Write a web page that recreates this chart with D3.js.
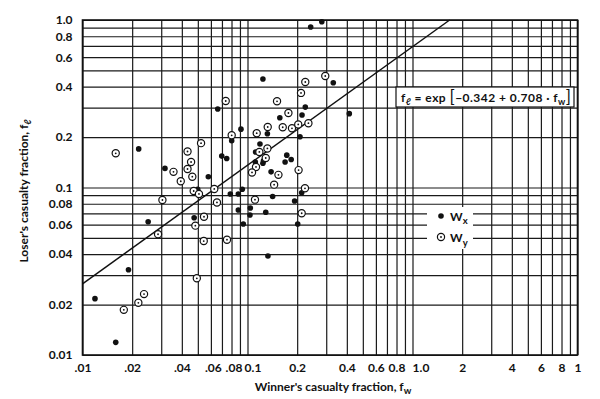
<!DOCTYPE html>
<html>
<head>
<meta charset="utf-8">
<script src="https://cdn.jsdelivr.net/npm/d3@7"></script>
<style>
  body { margin: 0; background: #fff; }
  text { font-family: Lato, "DejaVu Sans", sans-serif; font-weight: 700; fill: #111; }
</style>
</head>
<body>
<div id="chart"></div>
<script>
// winner W_x (filled dots)
var wxFw = [0.0159, 0.0119, 0.0190, 0.0250, 0.0219, 0.0316, 0.0499, 0.0475, 0.0579, 0.0698,
            0.0748, 0.0802, 0.0913, 0.0660, 0.0787, 0.088, 0.093, 0.088, 0.104, 0.1035,
            0.0943, 0.129, 0.133, 0.142, 0.1115, 0.124, 0.125, 0.112, 0.119, 0.132,
            0.139, 0.157, 0.124, 0.208, 0.214, 0.224, 0.173, 0.184, 0.169, 0.213,
            0.193, 0.2015, 0.2415, 0.282, 0.331, 0.414];
var wxFl = [0.0119, 0.0217, 0.0323, 0.0625, 0.170, 0.130, 0.0976, 0.066, 0.116, 0.154,
            0.149, 0.190, 0.223, 0.294, 0.0915, 0.0915, 0.0976, 0.0734, 0.0754, 0.0685,
            0.0606, 0.0711, 0.039, 0.0884, 0.142, 0.1395, 0.1445, 0.163, 0.182, 0.2095,
            0.124, 0.261, 0.444, 0.201, 0.271, 0.302, 0.156, 0.147, 0.142, 0.0931,
            0.0831, 0.0606, 0.908, 0.977, 0.422, 0.276];

// winner W_y (open circles)
var wyFw = [0.0159, 0.0178, 0.0218, 0.0236, 0.0287, 0.0305, 0.0356, 0.0394, 0.0433, 0.0455,
            0.0433, 0.0463, 0.0472, 0.0508, 0.0483, 0.0493, 0.0523, 0.0545, 0.0543, 0.0629,
            0.0653, 0.0751, 0.0738, 0.0802, 0.1137, 0.1326, 0.118, 0.132, 0.129, 0.1126,
            0.1065, 0.111, 0.154, 0.145, 0.151, 0.1635, 0.186, 0.203, 0.234, 0.177,
            0.211, 0.224, 0.296, 0.204, 0.223, 0.213];
var wyFl = [0.160, 0.0186, 0.0205, 0.0231, 0.0526, 0.0842, 0.124, 0.109, 0.164, 0.142,
            0.129, 0.116, 0.0953, 0.0915, 0.0592, 0.0287, 0.184, 0.0669, 0.0479, 0.098,
            0.0814, 0.0488, 0.3285, 0.205, 0.211, 0.2297, 0.163, 0.171, 0.150, 0.1326,
            0.123, 0.0846, 0.119, 0.104, 0.327, 0.229, 0.2256, 0.238, 0.242, 0.2785,
            0.367, 0.4265, 0.463, 0.127, 0.0989, 0.0702];

// fitted line end points
var lineFw = [0.01, 1.68];
var lineFl = [0.0266, 1.0];

var xTickValues = [0.01, 0.02, 0.04, 0.06, 0.08, 0.1, 0.2, 0.4, 0.6, 0.8, 1, 2, 4, 6, 8, 10];
var xTickLabels = [".01", ".02", ".04", ".06", ".08", "0.1", "0.2", "0.4", "0.6", "0.8", "1.0", "2", "4", "6", "8", "1"];
var yTickValues = [1, 0.8, 0.6, 0.4, 0.2, 0.1, 0.08, 0.06, 0.04, 0.02, 0.01];
var yTickLabels = ["1.0", "0.8", "0.6", "0.4", "0.2", "0.1", "0.08", "0.06", "0.04", "0.02", "0.01"];

var margin = {top: 20, right: 22.5, bottom: 44, left: 82.5},
    width = 600 - margin.left - margin.right,
    height = 399 - margin.top - margin.bottom;

var svg = d3.select("#chart")
  .append("svg")
    .attr("width", 600)
    .attr("height", 399)
  .append("g")
    .attr("transform", "translate(" + margin.left + "," + margin.top + ")");

var x = d3.scaleLog().domain([0.01, 10]).range([0, width]);
var y = d3.scaleLog().domain([0.01, 1]).range([height, 0]);

// grid lines, every 1..9 of each decade
svg.append("g")
    .attr("class", "grid")
    .attr("transform", "translate(0," + height + ")")
    .call(d3.axisBottom(x).tickValues(x.ticks()).tickSize(-height).tickFormat(""));
svg.append("g")
    .attr("class", "grid")
    .call(d3.axisLeft(y).tickValues(y.ticks()).tickSize(-width).tickFormat(""));
svg.selectAll(".grid line").attr("stroke", "#1a1a1a").attr("stroke-width", 1.2);
svg.selectAll(".grid .domain").remove();

// frame
svg.append("rect")
    .attr("width", width)
    .attr("height", height)
    .attr("fill", "none")
    .attr("stroke", "#111")
    .attr("stroke-width", 1.6);

// tick labels (a few are typed a little right of their line, as on the original)
var nudge = {".06": 2, ".08": 2, "0.1": 5, "1.0": 8};
var xAxis = svg.append("g")
    .attr("transform", "translate(0," + height + ")")
    .call(d3.axisBottom(x).tickValues(xTickValues).tickSize(0).tickPadding(8)
      .tickFormat(function(d, i) { return xTickLabels[i]; }));
xAxis.selectAll("text").attr("dx", function(d, i) { return nudge[xTickLabels[i]] || 0; });
var yAxis = svg.append("g")
    .call(d3.axisLeft(y).tickValues(yTickValues).tickSize(0).tickPadding(10)
      .tickFormat(function(d, i) { return yTickLabels[i]; }));
svg.selectAll(".domain").remove();
xAxis.selectAll("text").style("font-size", "12px").attr("fill", "#111");
yAxis.selectAll("text").style("font-size", "12px").attr("fill", "#111");

// equation box
var eq = svg.append("g").attr("transform", "translate(" + (396 - margin.left) + "," + (87 - margin.top) + ")");
eq.append("rect").attr("width", 178).attr("height", 20).attr("fill", "#fff").attr("stroke", "#111").attr("stroke-width", 1.2);
var eqText = eq.append("text").attr("x", 5).attr("y", 14.5).style("font-size", "12px")
    .attr("textLength", 170).attr("lengthAdjust", "spacing");
eqText.append("tspan").text("f");
eqText.append("tspan").attr("dy", 3).style("font-size", "9px").style("font-style", "italic").text("ℓ");
eqText.append("tspan").attr("dy", -3).text(" = exp ");
eqText.append("tspan").style("font-size", "17px").style("font-weight", 400).attr("dy", 1).text("[");
eqText.append("tspan").attr("dy", -1).text("\u22120.342 + 0.708 \u00b7 f");
eqText.append("tspan").attr("dy", 3).style("font-size", "9px").text("w");
eqText.append("tspan").attr("dy", -2).style("font-size", "17px").style("font-weight", 400).text("]");

// legend
var leg = svg.append("g").attr("transform", "translate(" + (427 - margin.left) + "," + (207 - margin.top) + ")");
leg.append("rect").attr("width", 46).attr("height", 42).attr("fill", "#fff");
leg.append("circle").attr("cx", 14).attr("cy", 9).attr("r", 2.8).attr("fill", "#111");
leg.append("circle").attr("cx", 14).attr("cy", 30).attr("r", 3.6).attr("fill", "#fff").attr("stroke", "#111").attr("stroke-width", 1.2);
leg.append("circle").attr("cx", 14).attr("cy", 30).attr("r", 0.9).attr("fill", "#111");
var lx = leg.append("text").attr("x", 23).attr("y", 13.5).style("font-size", "12px");
lx.append("tspan").text("W");
lx.append("tspan").attr("dy", 3).style("font-size", "9.5px").text("x");
var ly = leg.append("text").attr("x", 23).attr("y", 34.5).style("font-size", "12px");
ly.append("tspan").text("W");
ly.append("tspan").attr("dy", 4).style("font-size", "9.5px").text("y");

// fitted line
svg.append("path")
    .datum(d3.zip(lineFw, lineFl))
    .attr("fill", "none")
    .attr("stroke", "#111")
    .attr("stroke-width", 1.5)
    .attr("d", d3.line().x(function(d) { return x(d[0]); }).y(function(d) { return y(d[1]); }));

// points
svg.selectAll("wx")
  .data(d3.zip(wxFw, wxFl))
  .enter()
  .append("circle")
    .attr("cx", function(d) { return x(d[0]); })
    .attr("cy", function(d) { return y(d[1]); })
    .attr("r", 2.8)
    .attr("fill", "#111");

var wy = svg.selectAll("wy")
  .data(d3.zip(wyFw, wyFl))
  .enter()
  .append("g")
    .attr("transform", function(d) { return "translate(" + x(d[0]) + "," + y(d[1]) + ")"; });
wy.append("circle").attr("r", 3.6).attr("fill", "#fff").attr("stroke", "#111").attr("stroke-width", 1.2);
wy.append("circle").attr("r", 0.9).attr("fill", "#111");

// axis titles
var xt = svg.append("text")
    .attr("x", 333 - margin.left)
    .attr("y", 391 - margin.top)
    .attr("text-anchor", "middle")
    .style("font-size", "12px");
xt.append("tspan").text("Winner's casualty fraction, f");
xt.append("tspan").attr("dy", 3).style("font-size", "9.5px").text("w");

var yt = svg.append("text")
    .attr("transform", "translate(" + (28 - margin.left) + "," + (191 - margin.top) + ") rotate(-90)")
    .attr("text-anchor", "middle")
    .style("font-size", "12px");
yt.append("tspan").text("Loser's casualty fraction, f");
yt.append("tspan").attr("dy", 3).style("font-size", "9.5px").style("font-style", "italic").text("ℓ");
</script>
</body>
</html>
